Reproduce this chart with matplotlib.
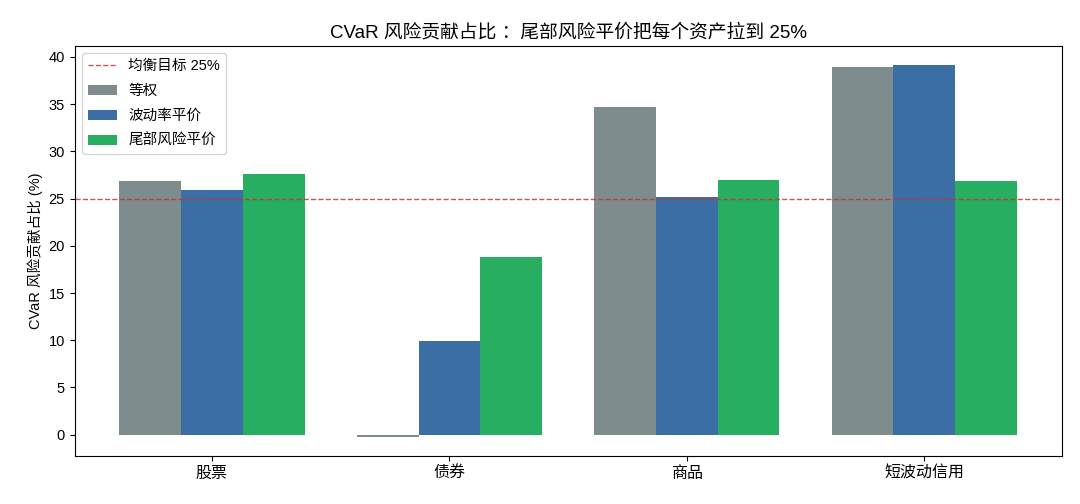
import numpy as np
import matplotlib
matplotlib.use("Agg")
from matplotlib import pyplot as plt

plt.rcParams['font.family'] = ['Liberation Sans', 'Noto Sans CJK SC', 'DejaVu Sans']
plt.rcParams['axes.unicode_minus'] = False

# Data
assets = ["股票", "债券", "商品", "短波动信用"]
equal_weight = [26.9, -0.3, 34.7, 38.9]
vol_parity = [25.9, 9.95, 25.2, 39.2]
tail_parity = [27.6, 18.8, 27.0, 26.85]
target = 25

fig, ax = plt.subplots(figsize=(10.8, 5.04), dpi=100)
x = np.arange(len(assets))
w = 0.26

ax.axhline(target, color="#c0392b", linestyle="--", linewidth=1.0, alpha=0.85,
           label="均衡目标 25%")
ax.bar(x - w, equal_weight, w, color="#7f8c8d", label="等权")
ax.bar(x, vol_parity, w, color="#3a6ea5", label="波动率平价")
ax.bar(x + w, tail_parity, w, color="#27ae60", label="尾部风险平价")

ax.set_xticks(x)
ax.set_xticklabels(assets, fontsize=11.5)
ax.tick_params(axis="y", labelsize=10.5)
ax.set_ylabel("CVaR 风险贡献占比 (%)", fontsize=10.5)
ax.set_title("CVaR 风险贡献占比 ：尾部风险平价把每个资产拉到 25%", fontsize=13.5)
ax.legend(loc="upper left", fontsize=10.5, labelspacing=0.75)

fig.subplots_adjust(left=0.069, right=0.983, top=0.909, bottom=0.095)
fig.savefig("out.png")
